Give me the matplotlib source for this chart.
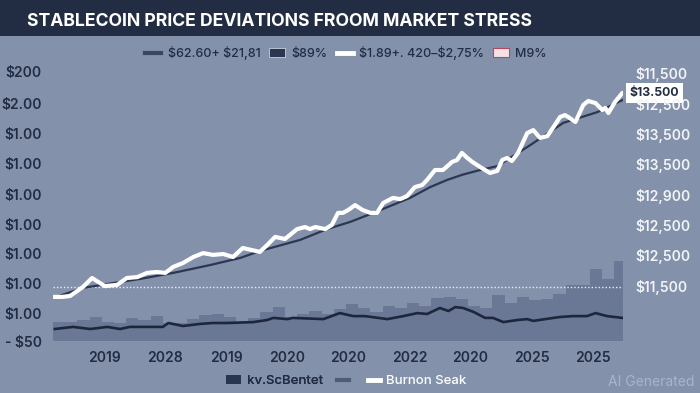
import matplotlib
matplotlib.use("Agg")
import matplotlib.pyplot as plt
from matplotlib.lines import Line2D
from matplotlib.patches import Patch
from matplotlib.legend_handler import HandlerTuple
import numpy as np

plt.rcParams['font.family'] = ['Inter', 'DejaVu Sans']
plt.rcParams['text.parse_math'] = False

# ---------------- data ----------------
title = "STABLECOIN PRICE DEVIATIONS FROOM MARKET STRESS"
x_labels = ["2019", "2028", "2019", "2020", "2020", "2022", "2020", "2025", "2025"]
left_labels = ["- $50", "$1.00", "$1.00", "$1.00", "$1.00", "$1.00", "$1.00", "$1.00", "$2.00", "$200"]
right_labels = ["$11,500", "$12,500", "$12,500", "$12,900", "$13,500", "$13,500", "$12,500", "$11,500"]
top_legend_labels = ["$62.60+ $21,81", "$89%", "$1.89+. 420\u2013$2,75%", "M9%"]
bottom_legend_labels = ["kv.ScBentet", "Burnon Seak"]
callout_label = "$13.500"
stress_level = 1.8

price_t = [0.00, 0.15, 0.28, 0.49, 0.64, 0.74, 0.85, 1.05, 1.21, 1.38, 1.54, 1.70, 1.84, 1.97,
           2.13, 2.30, 2.46, 2.62, 2.79, 2.95, 3.11, 3.26, 3.39, 3.51, 3.64, 3.80, 4.00, 4.13,
           4.21, 4.30, 4.46, 4.57, 4.67, 4.75, 4.84, 4.95, 5.07, 5.20, 5.31, 5.41, 5.57, 5.69,
           5.80, 5.93, 6.05, 6.13, 6.26, 6.39, 6.54, 6.62, 6.70, 6.79, 6.87, 7.00, 7.16, 7.28,
           7.36, 7.44, 7.52, 7.62, 7.77, 7.87, 7.98, 8.10, 8.20, 8.31, 8.39, 8.44, 8.56, 8.69,
           8.77, 8.89, 9.00, 9.05, 9.10, 9.21, 9.33]
price_v = [1.47, 1.47, 1.50, 1.80, 2.10, 1.97, 1.83, 1.87, 2.10, 2.13, 2.27, 2.30, 2.27, 2.47,
           2.60, 2.80, 2.93, 2.87, 2.90, 2.80, 3.10, 3.03, 2.97, 3.20, 3.47, 3.40, 3.73, 3.80,
           3.73, 3.80, 3.73, 3.87, 4.27, 4.27, 4.37, 4.53, 4.37, 4.27, 4.27, 4.60, 4.77, 4.73,
           4.83, 5.13, 5.20, 5.37, 5.70, 5.70, 5.97, 6.03, 6.27, 6.10, 5.97, 5.80, 5.60, 5.67,
           6.03, 6.10, 6.00, 6.27, 6.93, 7.03, 6.77, 6.83, 7.13, 7.47, 7.53, 7.47, 7.30, 7.87,
           8.00, 7.93, 7.70, 7.77, 7.60, 7.97, 8.27]

trend_t = [0.00, 0.49, 0.89, 1.43, 1.97, 2.57, 3.07, 3.39, 4.05, 4.49, 4.87, 5.25, 5.85, 6.18,
           6.46, 6.72, 7.00, 7.28, 7.82, 8.36, 8.92, 9.33]
trend_v = [1.43, 1.77, 1.90, 2.07, 2.27, 2.53, 2.77, 3.00, 3.37, 3.73, 3.97, 4.27, 4.77, 5.13,
           5.37, 5.55, 5.70, 5.83, 6.53, 7.27, 7.63, 8.03]

volume = [0.63, 0.63, 0.70, 0.80, 0.63, 0.60, 0.77, 0.70, 0.83, 0.60, 0.60, 0.73, 0.87, 0.90,
          0.80, 0.60, 0.77, 0.97, 1.13, 0.80, 0.90, 1.00, 0.90, 1.07, 1.23, 1.10, 0.97, 1.17,
          1.10, 1.27, 1.17, 1.43, 1.47, 1.40, 1.17, 1.10, 1.53, 1.27, 1.47, 1.37, 1.40, 1.57,
          1.87, 1.87, 2.40, 2.07, 2.67]

dev_t = [0.03, 0.33, 0.61, 0.89, 1.10, 1.26, 1.59, 1.80, 1.89, 2.13, 2.41, 2.62, 2.85, 3.28,
         3.51, 3.61, 3.84, 3.93, 4.43, 4.70, 4.92, 5.11, 5.48, 5.74, 5.97, 6.13, 6.34, 6.48,
         6.59, 6.72, 6.89, 7.08, 7.21, 7.38, 7.61, 7.77, 7.87, 8.20, 8.31, 8.52, 8.75, 8.89,
         9.08, 9.33]
dev_v = [0.40, 0.47, 0.40, 0.47, 0.40, 0.47, 0.47, 0.47, 0.60, 0.50, 0.57, 0.60, 0.60, 0.63,
         0.70, 0.77, 0.73, 0.77, 0.73, 0.93, 0.83, 0.83, 0.73, 0.83, 0.93, 0.90, 1.10, 1.00,
         1.13, 1.10, 0.97, 0.77, 0.77, 0.63, 0.70, 0.73, 0.67, 0.77, 0.80, 0.83, 0.83, 0.93,
         0.83, 0.77]

# ---------------- style ----------------
BG = "#8391ab"
BAR = "#6a7895"
NAVY = "#222c42"
TREND = "#2c3752"
WHITE = "#ffffff"

fig = plt.figure(figsize=(7, 3.93), dpi=100, facecolor=BG)
W, H = 700, 393

# title bar
fig.patches.append(plt.Rectangle((0, 1 - 36 / H), 1, 36 / H, transform=fig.transFigure,
                                 facecolor=NAVY, edgecolor="none", zorder=0))
fig.text(27 / W, 1 - 21 / H, title, color=WHITE, fontsize=12.7, fontweight="bold",
         ha="left", va="center")

ax = fig.add_axes([53 / W, 52 / H, 570 / W, 279 / H])
ax.set_facecolor(BG)
ax.set_xlim(0, 9.34)
ax.set_ylim(0, 9.3)

nb = len(volume)
bx = 0.1 + 0.2 * np.arange(nb)
ax.bar(bx, volume, width=0.2, color=BAR, edgecolor="none", zorder=1)
ax.plot(dev_t, dev_v, color="#1d263c", lw=1.9, zorder=2)
ax.axhline(stress_level, color="#e9edf3", lw=1.0, ls=(0, (1, 1.5)), zorder=3)
ax.plot(trend_t, trend_v, color=TREND, lw=1.6, zorder=4)
ax.plot(price_t, price_v, color=WHITE, lw=3.0, zorder=5, solid_capstyle="round",
        solid_joinstyle="round")

for s in ax.spines.values():
    s.set_visible(False)

ax.set_xticks(0.84 + np.arange(len(x_labels)))
ax.set_xticklabels(x_labels)
ax.tick_params(axis="x", length=0, pad=7, labelsize=10, labelcolor=NAVY)

left_pos = [0, 0.93, 1.9, 2.9, 3.9, 4.9, 5.93, 6.93, 7.93, 8.97]
ax.set_yticks(left_pos)
ax.set_yticklabels(left_labels)
ax.tick_params(axis="y", length=0, pad=8, labelsize=10, labelcolor=NAVY)
for lab in ax.get_xticklabels() + ax.get_yticklabels():
    lab.set_fontweight("semibold")

ax2 = ax.twinx()
ax2.set_ylim(ax.get_ylim())
for s in ax2.spines.values():
    s.set_visible(False)
right_pos = [1.83, 2.87, 3.87, 4.87, 5.9, 6.9, 7.9, 8.93]
ax2.set_yticks(right_pos)
ax2.set_yticklabels(right_labels)
ax2.tick_params(axis="y", length=0, pad=9, labelsize=10, labelcolor="#f2f4f8")
for lab in ax2.get_yticklabels():
    lab.set_fontweight("semibold")

ax.annotate(callout_label, xy=(price_t[-1], price_v[-1]), xytext=(5, 0),
            textcoords="offset points", ha="left", va="center", fontsize=8.8,
            fontweight="bold", color=NAVY, annotation_clip=False, zorder=10,
            bbox=dict(boxstyle="square,pad=0.3", facecolor="white", edgecolor="none"))

# top legend
top_handles = [
    Line2D([], [], color="#3b4762", lw=3),
    Patch(facecolor="#2a3550", edgecolor="#c8d0dc", lw=0.6),
    Line2D([], [], color=WHITE, lw=3.5),
    Patch(facecolor="#f3e3e6", edgecolor="#c0455a", lw=0.8),
]
leg1 = fig.legend(top_handles, top_legend_labels, loc="center", ncol=4,
                  bbox_to_anchor=(346 / W, 1 - 53 / H), frameon=False, fontsize=9,
                  handlelength=1.3, handletextpad=0.5, columnspacing=0.7)
for t in leg1.get_texts():
    t.set_color(NAVY)
    t.set_fontweight("medium")

# bottom legend (two groups)
leg2 = fig.legend([Patch(facecolor="#2a3550", edgecolor="none")], [bottom_legend_labels[0]],
                  loc="center", bbox_to_anchor=(275 / W, 1 - 381 / H), frameon=False,
                  fontsize=9.5, handlelength=1.1, handletextpad=0.5)
leg2.get_texts()[0].set_color(NAVY)
leg3 = fig.legend([(Line2D([], [], color="#4e5c78", lw=3), Line2D([], [], color=WHITE, lw=3.5))],
                  [bottom_legend_labels[1]], loc="center",
                  bbox_to_anchor=(402 / W, 1 - 381 / H), frameon=False, fontsize=9.5,
                  handlelength=3.2, handletextpad=0.5,
                  handler_map={tuple: HandlerTuple(ndivide=None, pad=1.4)})
leg3.get_texts()[0].set_color(WHITE)
fig.add_artist(leg2)
for t in leg2.get_texts() + leg3.get_texts():
    t.set_fontweight("medium")

fig.text(694 / W, 1 - 382 / H, "AI Generated", color="#aab4c7", fontsize=10,
         ha="right", va="center")

fig.savefig("out.png", dpi=100, facecolor=BG)
